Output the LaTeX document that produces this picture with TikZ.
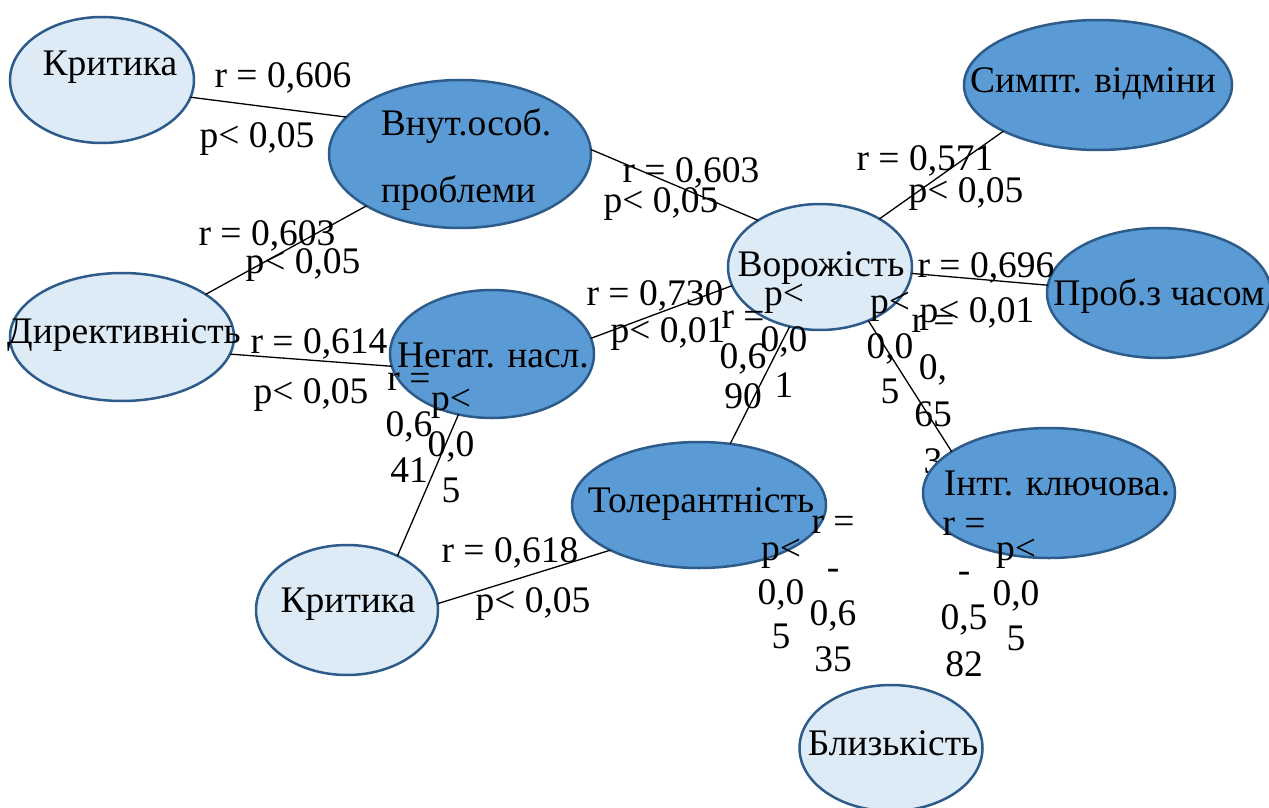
\documentclass[tikz,border=0pt]{standalone}
\usepackage{fontspec}
\setmainfont{Liberation Serif}
\usetikzlibrary{shapes.geometric}
\definecolor{darkfill}{HTML}{5B9BD5}
\definecolor{lightfill}{HTML}{DDEBF7}
\definecolor{edgeblue}{HTML}{2E5C8A}
\newcommand\etext[3]{\makebox[0pt]{\hspace*{#1}\raisebox{#2}[0pt][0pt]{#3}}}
\newcommand\cstack[2]{{\fontsize{37.5}{#1}\selectfont\begin{tabular}[t]{@{}c@{}}#2\end{tabular}}}
\tikzset{
  ell/.style={ellipse, draw=edgeblue, line width=2.5pt, inner sep=0pt, outer sep=0pt},
  darkell/.style={ell, fill=darkfill},
  lightell/.style={ell, fill=lightfill},
  lbl/.style={anchor=base, inner sep=0pt, outer sep=0pt},
  conn/.style={line width=1.3pt, black}
}
\begin{document}
\begin{tikzpicture}[x=1pt, y=-1pt, font=\fontsize{37.5}{45}\selectfont]
\fill[white] (0,0) rectangle (1269,808);
\useasboundingbox (0,0) rectangle (1269,808);

% label partly hidden behind the ellipse
\node[lbl] (lD) at (933,332) {\cstack{47pt}{r =\\0,\\65\\3}};

% ellipses
\node[lightell, minimum width=184pt, minimum height=126pt] (krit1) at (102,80) {\etext{16pt}{5pt}{Критика}};
\node[darkell, minimum width=262pt, minimum height=148pt] (vnut) at (460,154) {\etext{12pt}{19pt}{\fontsize{37.5}{67}\selectfont\begin{tabular}[t]{@{}l@{}}Внут.особ.\\проблеми\end{tabular}}};
\node[lightell, minimum width=184pt, minimum height=126pt] (vor) at (820,267) {\etext{2pt}{-9pt}{Ворожість}};
\node[darkell, minimum width=268pt, minimum height=130pt] (simpt) at (1098,85) {\etext{-10pt}{-7pt}{Симпт. відміни}};
\node[darkell, minimum width=224pt, minimum height=130pt] (prob) at (1159,293) {\etext{0pt}{-12pt}{Проб.з часом}};
\node[lightell, minimum width=224pt, minimum height=128pt] (dyr) at (122,337) {\etext{4pt}{-6pt}{Директивність}};
\node[darkell, minimum width=204pt, minimum height=128pt] (neg) at (492,354) {\etext{2pt}{-13pt}{Негат. насл.}};
\node[darkell, minimum width=254pt, minimum height=126pt] (toler) at (699,505) {\etext{4pt}{-7pt}{Толерантність}};
\node[darkell, minimum width=252pt, minimum height=130pt] (intg) at (1049,493) {\etext{16pt}{-2pt}{Інтг. ключова.}};
\node[lightell, minimum width=182pt, minimum height=130pt] (krit2) at (347,610) {\etext{2pt}{-2pt}{Критика}};
\node[lightell, minimum width=183pt, minimum height=126pt] (blyz) at (891,748) {\etext{4pt}{-7pt}{Близькість}};

% connectors
\draw[conn] (krit1.-11) -- (vnut.162);
\draw[conn] (vnut.2) -- (vor.143);
\draw[conn] (vnut.-151) -- (dyr.27);
\draw[conn] (vor.39) -- (simpt.-154);
\draw[conn] (vor.-4) -- (prob.176);
\draw[conn] (dyr.-9) -- (neg.-173);
\draw[conn] (neg.9) -- (vor.-168);
\draw[conn] (neg.-119) -- (krit2.47);
\draw[conn] (vor.-117) -- (toler.63);
\draw[conn] (vor.-48) -- (intg.157);
\draw[conn] (krit2.4) -- (toler.-153);

% single-line labels
\node[lbl] (l1r) at (283,88) {r = 0,606};
\node[lbl] (l1p) at (257,147) {p< 0,05};
\node[lbl] (l2r) at (267,245) {r = 0,603};
\node[lbl] (l2p) at (303,273) {p< 0,05};
\node[lbl] (l3r) at (691,182) {r = 0,603};
\node[lbl] (l3p) at (661,212) {p< 0,05};
\node[lbl] (l4r) at (925,170) {r = 0,571};
\node[lbl] (l4p) at (966,202) {p< 0,05};
\node[lbl] (l5r) at (986,277) {r = 0,696};
\node[lbl] (l5p) at (977,322) {p< 0,01};
\node[lbl] (l6r) at (319,353) {r = 0,614};
\node[lbl] (l6p) at (311,403) {p< 0,05};
\node[lbl] (l7r) at (655,305) {r = 0,730};
\node[lbl] (l7p) at (668,342) {p< 0,01};
\node[lbl] (l8r) at (510,562) {r = 0,618};
\node[lbl] (l8p) at (533,612) {p< 0,05};

% column labels
\node[lbl] (lA) at (743,328) {\cstack{40pt}{r =\\0,6\\90}};
\node[lbl] (lB) at (784,305) {\cstack{46pt}{p<\\0,0\\1}};
\node[lbl] (lC) at (890,313) {\cstack{45pt}{p<\\0,0\\5}};
\node[lbl] (lE) at (833,533) {\cstack{46pt}{r =\\-\\0,6\\35}};
\node[lbl] (lF) at (781,560) {\cstack{44pt}{p<\\0,0\\5}};
\node[lbl] (lG) at (964,535) {\cstack{47pt}{r =\\-\\0,5\\82}};
\node[lbl] (lH) at (1016,560) {\cstack{45pt}{p<\\0,0\\5}};
\node[lbl] (lI) at (409,390) {\cstack{46pt}{r =\\0,6\\41}};
\node[lbl] (lJ) at (451,410) {\cstack{46pt}{p<\\0,0\\5}};
\end{tikzpicture}
\end{document}
